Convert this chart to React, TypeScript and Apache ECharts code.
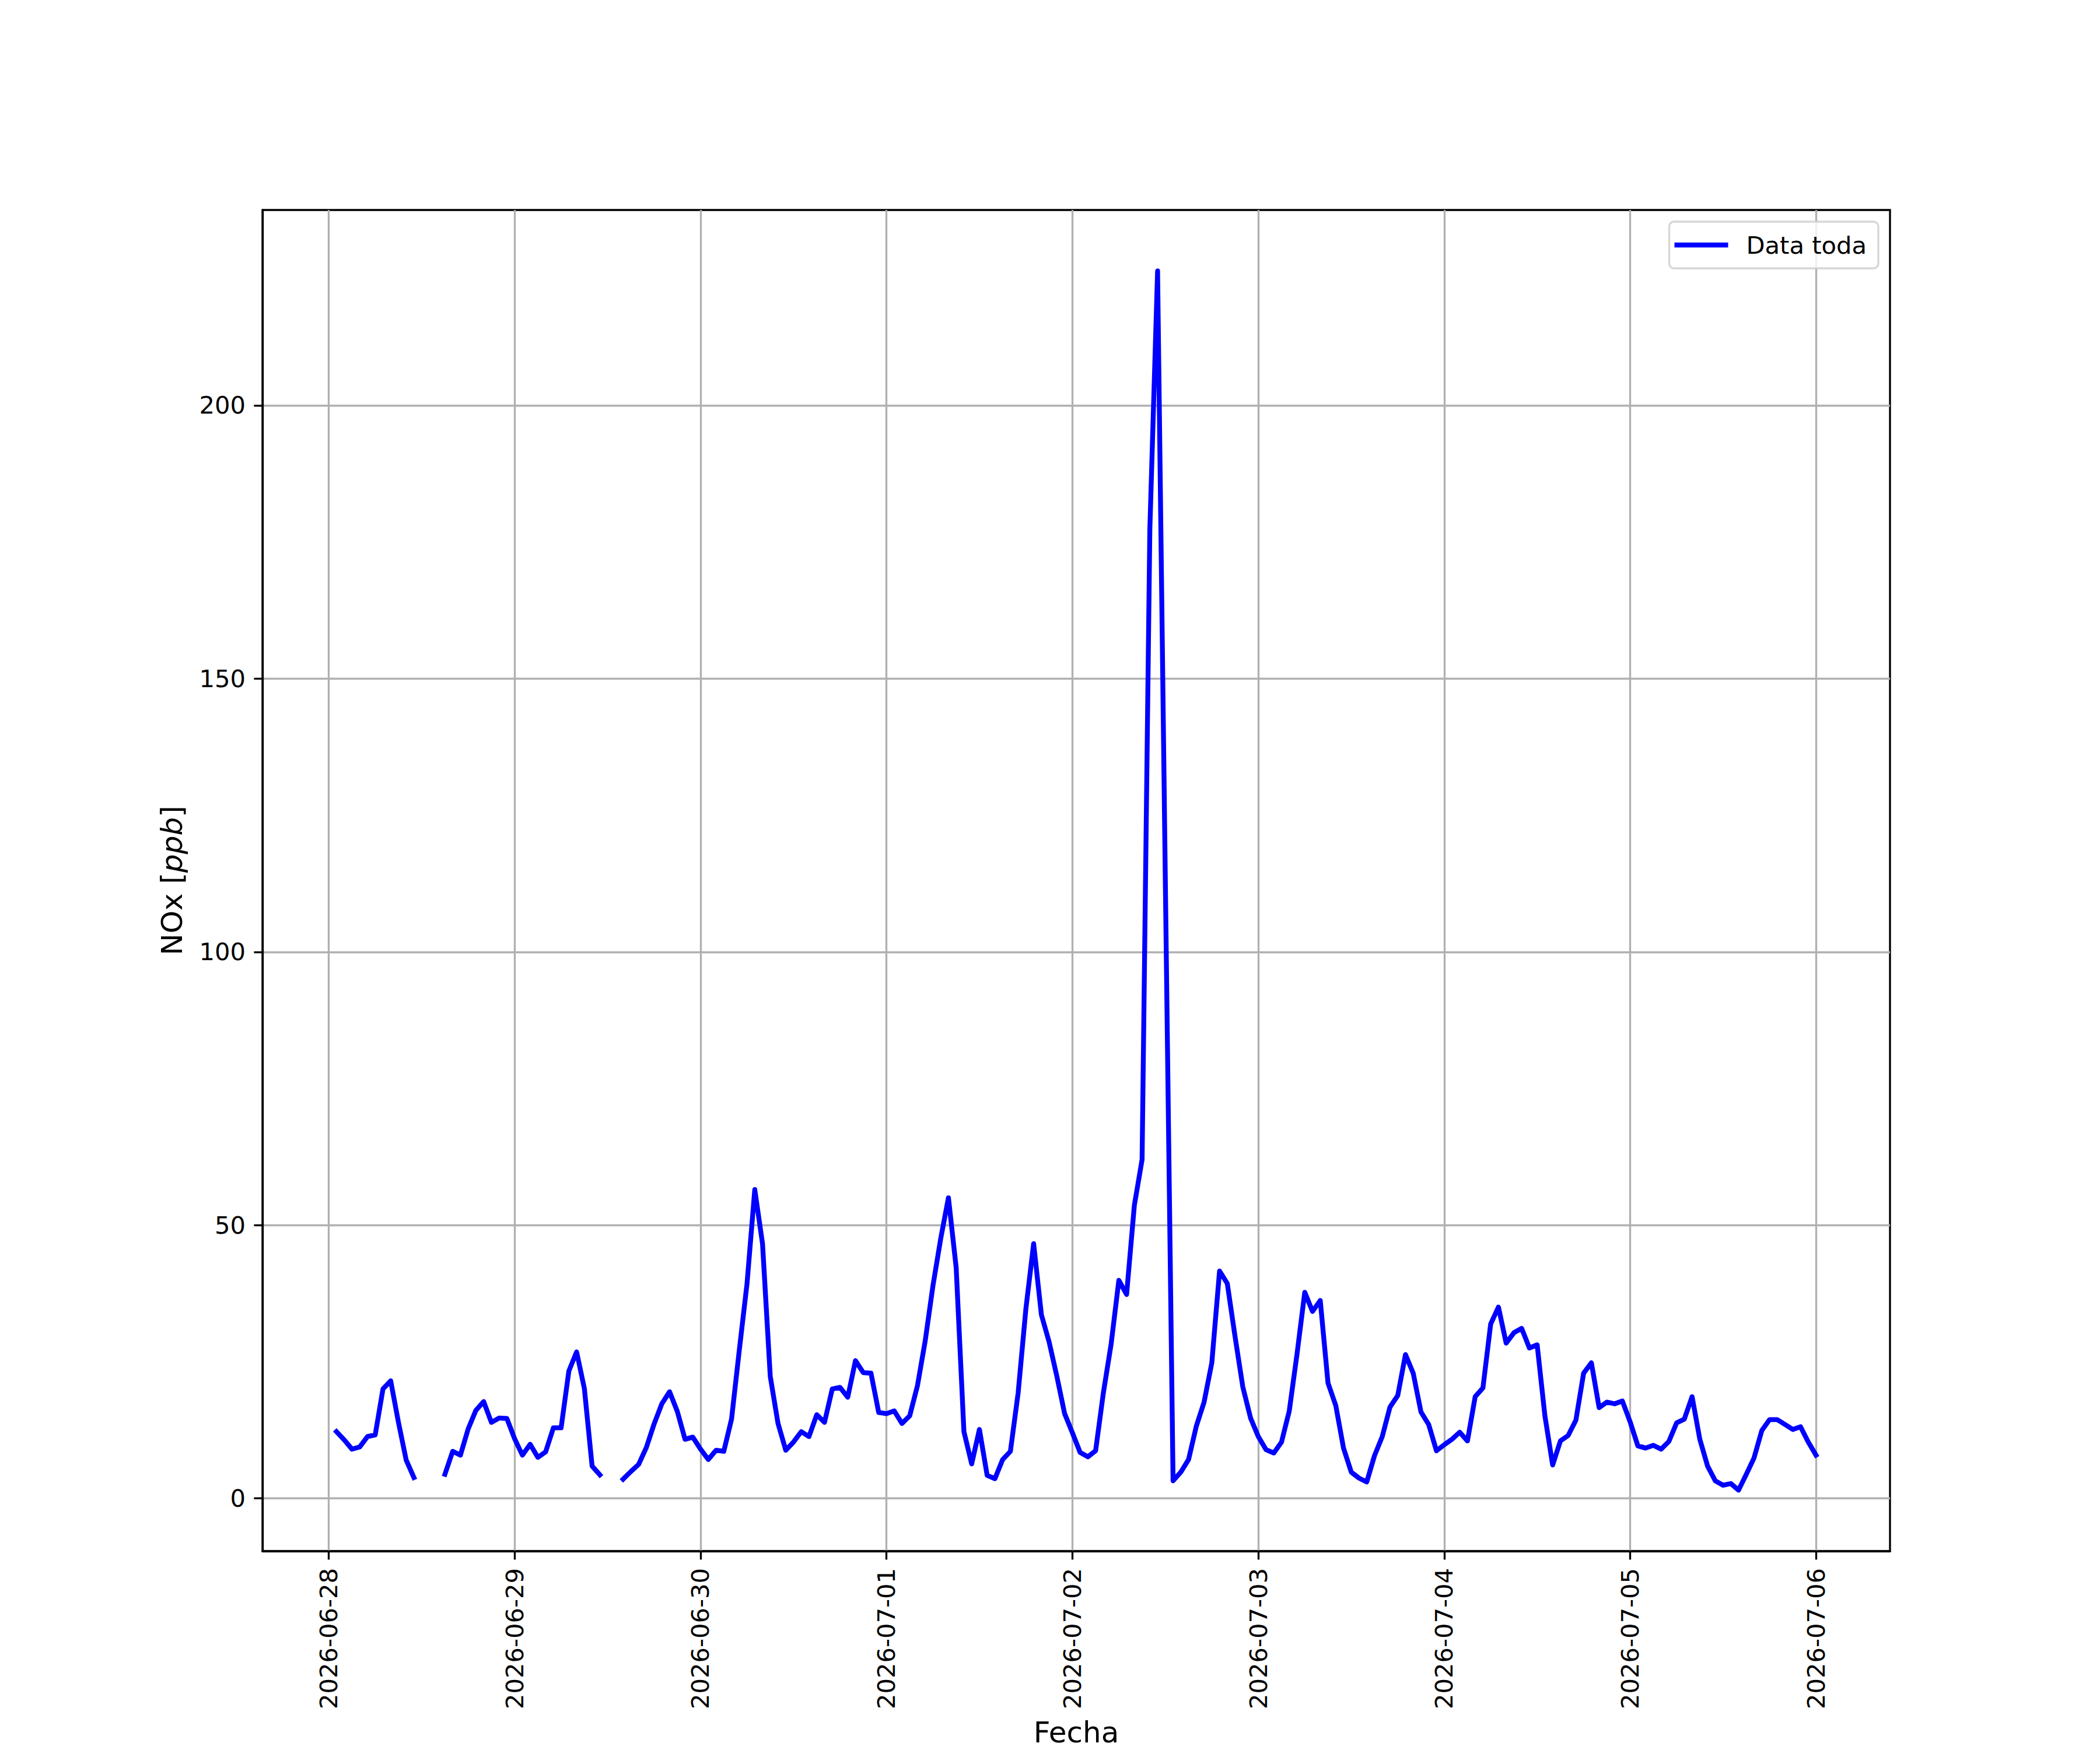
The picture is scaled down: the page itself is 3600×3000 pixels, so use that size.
import React, { useEffect, useRef } from "react";
import * as echarts from "echarts";

// Hourly NOx values [ppb]; null = missing
const nox_0628: (number | null)[] = [ // hours 01..23
  12.2, 10.7, 9.0, 9.4, 11.3, 11.6, 20.0, 21.5, 13.9, 7.0, 3.8, null, null, null,
  4.4, 8.6, 7.9, 12.7, 16.1, 17.7, 13.9, 14.7, 14.6,
];
const nox_0629: (number | null)[] = [
  10.9, 7.9, 9.9, 7.5, 8.5, 12.9, 12.9, 23.3, 26.8, 20.1, 5.9, 4.3, null, null,
  3.5, 4.9, 6.2, 9.3, 13.6, 17.3, 19.5, 15.9, 10.8, 11.2,
];
const nox_0630: (number | null)[] = [
  9.0, 7.1, 8.8, 8.6, 14.5, 27.1, 39.3, 56.5, 46.6, 22.3, 13.7, 8.8, 10.3, 12.2,
  11.3, 15.3, 13.9, 20.0, 20.3, 18.5, 25.2, 23.0, 22.9, 15.7,
];
const nox_0701: (number | null)[] = [
  15.5, 16.0, 13.7, 15.1, 20.6, 28.8, 38.9, 47.5, 55.0, 42.2, 12.2, 6.3, 12.6, 4.2,
  3.6, 7.1, 8.6, 19.3, 34.7, 46.6, 33.6, 28.6, 22.3, 15.5,
];
const nox_0702: (number | null)[] = [
  12.0, 8.4, 7.6, 8.7, 19.3, 28.2, 39.9, 37.3, 53.6, 62.0, 177.3, 224.6, 113.0, 3.2,
  4.8, 7.1, 13.2, 17.6, 24.8, 41.6, 39.3, 29.6, 20.4, 14.7,
];
const nox_0703: (number | null)[] = [
  11.3, 8.9, 8.3, 10.3, 16.0, 26.4, 37.7, 34.2, 36.2, 21.1, 17.0, 9.2, 4.8, 3.7,
  3.0, 7.8, 11.3, 16.7, 18.8, 26.3, 22.9, 15.8, 13.5, 8.7,
];
const nox_0704: (number | null)[] = [
  9.8, 10.8, 12.1, 10.5, 18.6, 20.2, 31.9, 35.0, 28.4, 30.3, 31.1, 27.5, 28.1, 15.1,
  6.1, 10.5, 11.5, 14.3, 22.9, 24.8, 16.6, 17.6, 17.3, 17.8,
];
const nox_0705: (number | null)[] = [
  14.0, 9.6, 9.2, 9.7, 9.0, 10.4, 13.8, 14.5, 18.6, 10.8, 5.9, 3.2, 2.4, 2.7,
  1.5, 4.4, 7.4, 12.4, 14.4, 14.4, 13.5, 12.6, 13.1, 10.3,
];
const nox_0706: (number | null)[] = [7.9]; // hour 00

const tickDates = [
  "2026-06-28", "2026-06-29", "2026-06-30", "2026-07-01", "2026-07-02",
  "2026-07-03", "2026-07-04", "2026-07-05", "2026-07-06",
];
const yTicks = [0, 50, 100, 150, 200];

const HOUR = 3600 * 1000;
const FONT = "DejaVu Sans";
const FS = 41.67;
const FS_LABEL = 50;
const LW = 3.33;
const DATA_LW = 8.33;

function pad(n: number) {
  return n < 10 ? "0" + n : "" + n;
}
function fmtDate(v: number) {
  const d = new Date(v);
  return d.getUTCFullYear() + "-" + pad(d.getUTCMonth() + 1) + "-" + pad(d.getUTCDate());
}

function buildSeries() {
  const start = Date.UTC(2026, 5, 28, 1);
  const all = [
    ...nox_0628, ...nox_0629, ...nox_0630, ...nox_0701, ...nox_0702,
    ...nox_0703, ...nox_0704, ...nox_0705, ...nox_0706,
  ];
  return all.map((v, i) => [start + i * HOUR, v == null ? "-" : v]);
}

export default function App() {
  const ref = useRef<HTMLDivElement>(null);
  useEffect(() => {
    if (!ref.current) return;
    const chart = echarts.init(ref.current, undefined, { renderer: "svg" });
    const data = buildSeries();
    const ts = data.map((d) => d[0] as number);
    const vals = data.filter((d) => d[1] !== "-").map((d) => d[1] as number);
    const x0 = ts[0], x1 = ts[ts.length - 1];
    const y0 = Math.min(...vals), y1 = Math.max(...vals);
    const xm = (x1 - x0) * 0.05, ym = (y1 - y0) * 0.05;
    const xTicks = tickDates.map((s) => {
      const [Y, M, D] = s.split("-").map(Number);
      return Date.UTC(Y, M - 1, D);
    });
    chart.setOption({
      animation: false,
      backgroundColor: "#ffffff",
      grid: {
        left: 450, right: 360, top: 360, bottom: 330,
        show: true, borderColor: "#000", borderWidth: LW, backgroundColor: "transparent",
      },
      legend: {
        right: 380, top: 380,
        backgroundColor: "rgba(255,255,255,0.8)",
        borderColor: "rgba(204,204,204,0.8)",
        borderWidth: LW,
        borderRadius: 8,
        padding: [19, 20, 19, 9],
        itemWidth: 92,
        itemHeight: DATA_LW,
        textStyle: { fontSize: FS, fontFamily: FONT, color: "#000", padding: [0, 0, 0, 26] },
        data: [{ name: "Data toda", icon: "rect", itemStyle: { color: "#0000ff" } }],
      },
      xAxis: {
        type: "value",
        min: x0 - xm,
        max: x1 + xm,
        name: "Fecha",
        nameLocation: "middle",
        nameGap: 286,
        nameTextStyle: { fontSize: FS_LABEL, fontFamily: FONT, color: "#000", verticalAlign: "top" },
        axisLine: { show: true, onZero: false, lineStyle: { color: "#000", width: LW } },
        axisTick: { show: true, length: 14.6, inside: false, lineStyle: { color: "#000", width: LW }, customValues: xTicks },
        axisLabel: {
          show: true, rotate: 90, margin: 29, fontSize: FS, fontFamily: FONT, color: "#000",
          customValues: xTicks, formatter: (v: number) => fmtDate(v),
        },
        splitLine: { show: true, lineStyle: { color: "#b0b0b0", width: LW } },
      },
      yAxis: {
        type: "value",
        min: y0 - ym,
        max: y1 + ym,
        name: "{a|NOx [}{b|ppb}{a|]}",
        nameLocation: "middle",
        nameRotate: 90,
        nameGap: 130,
        nameTextStyle: {
          fontSize: FS_LABEL, fontFamily: FONT, color: "#000",
          rich: {
            a: { fontSize: FS_LABEL, fontFamily: FONT, color: "#000" },
            b: { fontSize: FS_LABEL, fontFamily: FONT, color: "#000", fontStyle: "italic" },
          },
        },
        axisLine: { show: true, onZero: false, lineStyle: { color: "#000", width: LW } },
        axisTick: { show: true, length: 14.6, inside: false, lineStyle: { color: "#000", width: LW }, customValues: yTicks },
        axisLabel: {
          show: true, margin: 29, fontSize: FS, fontFamily: FONT, color: "#000",
          customValues: yTicks,
        },
        splitLine: { show: true, lineStyle: { color: "#b0b0b0", width: LW } },
      },
      series: [
        {
          name: "Data toda",
          type: "line",
          data,
          symbol: "none",
          showSymbol: false,
          connectNulls: false,
          lineStyle: { color: "#0000ff", width: DATA_LW, cap: "square", join: "round" },
          itemStyle: { color: "#0000ff" },
          z: 5,
        },
      ],
    });
    return () => chart.dispose();
  }, []);
  return (
    <div
      ref={ref}
      style={{ position: "absolute", left: 0, top: 0, width: 3600, height: 3000, background: "#fff" }}
    />
  );
}
